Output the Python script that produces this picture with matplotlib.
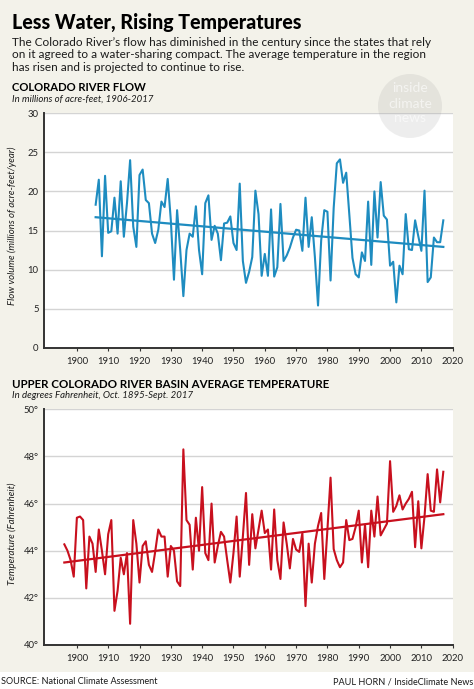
import matplotlib
matplotlib.use('Agg')
import matplotlib.pyplot as plt
from matplotlib.patches import Ellipse, Rectangle

# ---------------- data ----------------
flow_years = list(range(1906, 2018))
flow_values = [
    18.3, 21.5, 11.7, 22.0, 14.7, 14.9, 19.2, 14.6, 21.3, 14.2,
    18.5, 24.0, 15.5, 12.9, 22.1, 22.8, 18.9, 18.5, 14.6, 13.4,
    15.1, 18.7, 18.0, 21.6, 16.3, 8.7, 17.6, 12.5, 6.6, 12.5,
    14.6, 14.2, 18.1, 12.5, 9.4, 18.5, 19.5, 13.8, 15.6, 14.6,
    11.2, 15.9, 16.0, 16.8, 13.4, 12.5, 21.0,
    11.1, 8.3, 9.7, 11.6, 20.1, 17.1, 9.2, 12.0, 9.2, 17.7,
    9.1, 10.3, 18.4, 11.1, 11.8, 12.8, 14.1, 15.1, 15.0, 12.4,
    19.2, 12.9, 16.7, 11.6, 5.4, 13.7, 17.6, 17.4, 8.6, 17.9,
    23.6, 24.1, 21.1, 22.4, 17.0, 11.5, 9.4, 9.0, 12.2, 11.1,
    18.7, 10.6, 20.0, 14.1, 21.2, 16.9, 16.4, 10.5, 11.0, 5.8,
    10.5, 9.4, 17.1, 12.6, 12.5, 16.3, 14.3, 12.4, 20.1, 8.4,
    9.0, 14.1, 13.5, 13.5, 16.3,
]
flow_trend_years = [1906, 2017]
flow_trend_values = [16.7, 12.9]

temp_years = list(range(1896, 2018))
temp_values = [
    44.27, 44.0, 43.6, 42.9, 45.4, 45.45, 45.3, 42.4, 44.6, 44.3,
    43.1, 44.9, 44.0, 43.0, 44.7, 45.3, 41.45, 42.3, 43.7, 43.0,
    43.9, 40.9, 45.3, 44.3, 42.65, 44.2, 44.4, 43.4, 43.1, 43.95,
    44.9, 44.6, 44.6, 42.9, 44.2, 44.0, 42.7, 42.5, 48.3, 45.3,
    45.1, 43.2, 45.4, 44.0, 46.7, 43.9, 43.6, 46.0, 43.5, 44.2,
    44.8, 44.6, 43.6, 42.65, 43.9, 45.45,
    42.9, 44.6, 46.45, 43.4, 45.55, 44.1, 44.9, 45.7, 44.75, 44.9,
    43.2, 45.75, 43.6, 42.8, 45.2, 44.3, 43.25, 44.5, 44.05, 43.95,
    44.75, 41.65, 44.3, 42.65, 44.3, 45.05, 45.6, 42.8, 44.9, 47.1,
    44.07, 43.6, 43.3, 43.5, 45.3, 44.45, 44.5, 45.0, 45.7, 43.5,
    45.1, 43.3, 45.7, 44.6, 46.3, 44.65, 44.9, 45.15, 47.8, 45.65,
    45.9, 46.35, 45.75, 46.0, 46.2, 46.5, 44.15, 46.1, 44.1, 45.45,
    47.25, 45.7, 45.65, 47.45, 46.05, 47.35,
]
temp_trend_years = [1896, 2017]
temp_trend_values = [43.5, 45.55]

x_ticks = [1900, 1910, 1920, 1930, 1940, 1950, 1960, 1970, 1980, 1990, 2000, 2010, 2020]
flow_yticks = [0, 5, 10, 15, 20, 25, 30]
temp_yticks = [40, 42, 44, 46, 48, 50]
temp_ytick_labels = ['40°', '42°', '44°', '46°', '48°', '50°']

title = 'Less Water, Rising Temperatures'
intro_lines = [
    'The Colorado River\u2019s flow has diminished in the century since the states that rely',
    'on it agreed to a water-sharing compact. The average temperature in the region',
    'has risen and is projected to continue to rise.',
]
flow_head = 'COLORADO RIVER FLOW'
flow_sub = 'In millions of acre-feet, 1906-2017'
flow_ylabel = 'Flow volume (millions of acre-feet/year)'
temp_head = 'UPPER COLORADO RIVER BASIN AVERAGE TEMPERATURE'
temp_sub = 'In degrees Fahrenheit, Oct. 1895-Sept. 2017'
temp_ylabel = 'Temperature (Fahrenheit)'
source = 'SOURCE: National Climate Assessment'
credit = 'PAUL HORN / InsideClimate News'

# ---------------- style ----------------
W, H = 474, 689
BG = '#F3F2EA'
BLUE = '#1E8CC0'
RED = '#C8101E'
GRID = '#D4D4D4'
TXT = '#1A1A1A'
FONT = 'Lato'
plt.rcParams['font.family'] = [FONT, 'DejaVu Sans']

fig = plt.figure(figsize=(W / 100, H / 100), dpi=100, facecolor=BG)


def fx(x):
    return x / W


def fy(y):
    return 1 - y / H


def axes_px(left, top, right, bottom):
    return fig.add_axes([fx(left), fy(bottom), (right - left) / W, (bottom - top) / H])


# footer white band
fig.patches.append(Rectangle((0, 0), 1, fy(672), transform=fig.transFigure,
                             facecolor='white', edgecolor='none', zorder=0))


def style_axes(ax, ylim, yticks, ylabels):
    ax.set_facecolor('white')
    ax.set_xlim(1889.6, 2020)
    ax.set_ylim(*ylim)
    ax.set_xticks(x_ticks)
    ax.set_xticklabels([str(t) for t in x_ticks])
    ax.set_yticks(yticks)
    ax.set_yticklabels(ylabels)
    ax.grid(axis='y', color=GRID, linewidth=1.0, zorder=0)
    ax.set_axisbelow(True)
    for s in ['top', 'right']:
        ax.spines[s].set_visible(False)
    for s in ['left', 'bottom']:
        ax.spines[s].set_color('#333333')
        ax.spines[s].set_linewidth(1.4)
    ax.tick_params(axis='x', length=2.5, width=0.8, color='#333333', pad=4,
                   labelsize=6.8, labelcolor='#222222')
    ax.tick_params(axis='y', length=0, pad=4, labelsize=6.8, labelcolor='#222222')


# ---- flow chart ----
ax1 = axes_px(44.3, 113.3, 452.7, 347.7)
style_axes(ax1, (0, 30), flow_yticks, [str(t) for t in flow_yticks])
ax1.plot(flow_years, flow_values, color=BLUE, linewidth=1.5, solid_joinstyle='round', zorder=3)
ax1.plot(flow_trend_years, flow_trend_values, color=BLUE, linewidth=1.6, zorder=3)
ax1.set_ylabel(flow_ylabel, fontsize=6.9, style='italic', color=TXT, labelpad=5)
ax1.yaxis.set_label_coords(-0.066, 0.52)

# ---- temperature chart ----
ax2 = axes_px(44.3, 409.3, 452.7, 645.0)
style_axes(ax2, (40, 50), temp_yticks, temp_ytick_labels)
ax2.plot(temp_years, temp_values, color=RED, linewidth=1.5, solid_joinstyle='round', zorder=3)
ax2.plot(temp_trend_years, temp_trend_values, color=RED, linewidth=1.6, zorder=3)
ax2.set_ylabel(temp_ylabel, fontsize=6.9, style='italic', color=TXT, labelpad=5)
ax2.yaxis.set_label_coords(-0.066, 0.47)

# ---- texts ----
fig.text(fx(12), fy(22), title, fontsize=14.1, fontweight='black', color='black',
         va='center', ha='left')
for i, line in enumerate(intro_lines):
    fig.text(fx(12), fy(42.5 + i * 12.3), line, fontsize=8.5, color=TXT,
             va='center', ha='left')
fig.text(fx(12), fy(87.5), flow_head, fontsize=8.1, fontweight='bold', color='black',
         va='center', ha='left')
fig.text(fx(12), fy(99.5), flow_sub, fontsize=6.9, style='italic', color=TXT,
         va='center', ha='left')
fig.text(fx(12), fy(384), temp_head, fontsize=8.3, fontweight='bold', color='black',
         va='center', ha='left')
fig.text(fx(12), fy(395.5), temp_sub, fontsize=6.9, style='italic', color=TXT,
         va='center', ha='left')
fig.text(fx(1), fy(682), source, fontsize=6.6, color=TXT, va='center', ha='left')
fig.text(fx(473), fy(682), credit, fontsize=6.6, color=TXT, va='center', ha='right')

# ---- watermark ----
fig.patches.append(Ellipse((fx(410), fy(106)), 64 / W, 64 / H, transform=fig.transFigure,
                           facecolor='#9A9A9A', alpha=0.17, edgecolor='none', zorder=10))
for word, yy in [('inside', 88), ('climate', 104), ('news', 118)]:
    fig.text(fx(410), fy(yy), word, fontsize=10, color='white', alpha=0.6,
             ha='center', va='center', zorder=11)

fig.savefig('out.png', dpi=100, facecolor=BG)
